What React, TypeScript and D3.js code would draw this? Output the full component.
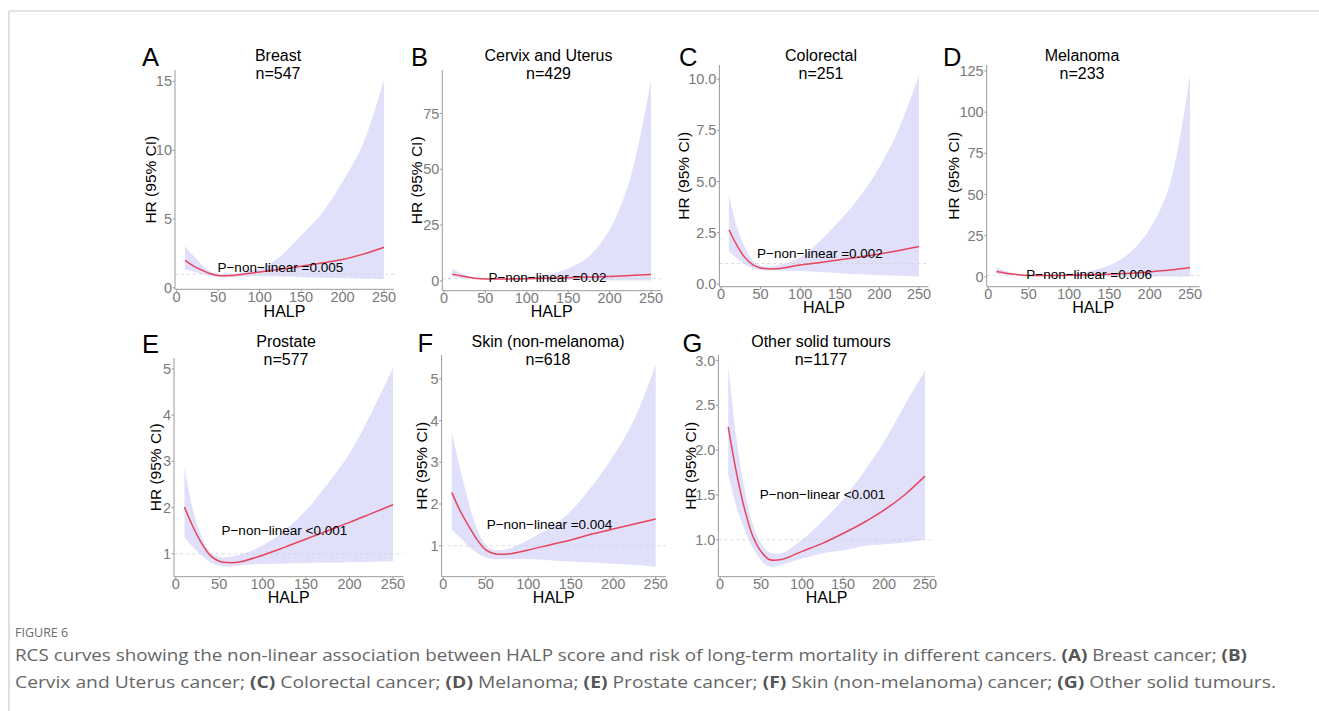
import React from 'react';
import * as d3 from 'd3';

// ---------- DATA ----------
const halp = [10, 20, 30, 40, 50, 60, 75, 100, 125, 150, 175, 200, 225, 250];
const xTicks = [0, 50, 100, 150, 200, 250];

const breastHR = [2.0, 1.6, 1.3, 1.04, 0.9, 0.88, 0.95, 1.15, 1.35, 1.57, 1.8, 2.06, 2.45, 2.95];
const breastLower = [1.33, 1.2, 1.0, 0.85, 0.78, 0.78, 0.82, 0.85, 0.82, 0.78, 0.74, 0.7, 0.66, 0.62];
const breastUpper = [3.03, 2.35, 1.7, 1.2, 1.02, 1.0, 1.08, 1.4, 2.3, 3.8, 5.4, 7.7, 10.5, 15.1];
const breastTicks = [0, 5, 10, 15];

const cervixHR = [3.0, 2.3, 1.6, 1.1, 0.85, 0.8, 0.85, 1.0, 1.2, 1.45, 1.7, 2.0, 2.4, 2.9];
const cervixLower = [1.6, 1.3, 1.1, 0.9, 0.7, 0.65, 0.65, 0.6, 0.5, 0.4, 0.3, 0.2, 0.15, 0.1];
const cervixUpper = [5.6, 3.5, 2.0, 1.2, 1.0, 1.0, 1.1, 1.7, 2.9, 5.5, 11, 23, 46, 90];
const cervixTicks = [0, 25, 50, 75];

const colorectalHR = [2.65, 1.9, 1.3, 0.95, 0.78, 0.74, 0.76, 0.93, 1.05, 1.18, 1.32, 1.47, 1.64, 1.83];
const colorectalLower = [1.59, 1.25, 0.95, 0.78, 0.68, 0.66, 0.66, 0.63, 0.58, 0.53, 0.48, 0.44, 0.4, 0.36];
const colorectalUpper = [4.39, 2.8, 1.8, 1.15, 0.9, 0.85, 0.95, 1.3, 2.1, 3.1, 4.25, 5.7, 7.6, 10.2];
const colorectalTicks = [0, 2.5, 5, 7.5, 10];

const melanomaHR = [3.2, 2.4, 1.7, 1.2, 0.9, 0.8, 0.8, 0.95, 1.2, 1.6, 2.2, 3.0, 4.1, 5.7];
const melanomaLower = [1.7, 1.4, 1.1, 0.9, 0.75, 0.65, 0.6, 0.5, 0.4, 0.35, 0.3, 0.25, 0.2, 0.15];
const melanomaUpper = [6.0, 3.8, 2.3, 1.5, 1.1, 1.0, 1.1, 1.9, 3.4, 7, 14.5, 29, 56, 122.5];
const melanomaTicks = [0, 25, 50, 75, 100, 125];

const prostateHR = [2.01, 1.58, 1.22, 0.96, 0.84, 0.81, 0.83, 0.97, 1.14, 1.32, 1.5, 1.68, 1.87, 2.06];
const prostateLower = [1.36, 1.14, 0.96, 0.82, 0.74, 0.72, 0.75, 0.78, 0.79, 0.8, 0.81, 0.82, 0.83, 0.84];
const prostateUpper = [2.88, 1.94, 1.36, 1.03, 0.93, 0.93, 0.99, 1.18, 1.5, 1.94, 2.52, 3.17, 4.04, 5.02];
const prostateTicks = [1, 2, 3, 4, 5];

const skinHR = [2.28, 1.83, 1.47, 1.14, 0.9, 0.81, 0.8, 0.9, 1.02, 1.14, 1.28, 1.4, 1.52, 1.64];
const skinLower = [1.39, 1.19, 0.98, 0.82, 0.72, 0.68, 0.68, 0.68, 0.65, 0.62, 0.6, 0.57, 0.54, 0.5];
const skinUpper = [3.72, 2.83, 2.03, 1.39, 1.02, 0.9, 0.92, 1.14, 1.43, 1.83, 2.43, 3.15, 4.04, 5.33];
const skinTicks = [1, 2, 3, 4, 5];

const otherHR = [2.26, 1.75, 1.34, 1.04, 0.87, 0.78, 0.78, 0.87, 0.96, 1.07, 1.19, 1.33, 1.5, 1.71];
const otherLower = [1.73, 1.37, 1.11, 0.91, 0.77, 0.7, 0.72, 0.79, 0.85, 0.88, 0.93, 0.95, 0.97, 1.0];
const otherUpper = [2.95, 2.13, 1.56, 1.17, 0.96, 0.86, 0.85, 1.0, 1.21, 1.45, 1.75, 2.09, 2.5, 2.89];
const otherTicks = [1.0, 1.5, 2.0, 2.5, 3.0];

const letters = ['A', 'B', 'C', 'D', 'E', 'F', 'G'];
const titles = ['Breast', 'Cervix and Uterus', 'Colorectal', 'Melanoma', 'Prostate', 'Skin (non-melanoma)', 'Other solid tumours'];
const counts = ['n=547', 'n=429', 'n=251', 'n=233', 'n=577', 'n=618', 'n=1177'];
const pTexts = [
  'P\u2212non\u2212linear =0.005',
  'P\u2212non\u2212linear =0.02',
  'P\u2212non\u2212linear =0.002',
  'P\u2212non\u2212linear =0.006',
  'P\u2212non\u2212linear <0.001',
  'P\u2212non\u2212linear =0.004',
  'P\u2212non\u2212linear <0.001',
];
const hrSeries = [breastHR, cervixHR, colorectalHR, melanomaHR, prostateHR, skinHR, otherHR];
const lowerSeries = [breastLower, cervixLower, colorectalLower, melanomaLower, prostateLower, skinLower, otherLower];
const upperSeries = [breastUpper, cervixUpper, colorectalUpper, melanomaUpper, prostateUpper, skinUpper, otherUpper];
const yTickSets = [breastTicks, cervixTicks, colorectalTicks, melanomaTicks, prostateTicks, skinTicks, otherTicks];
const tickFormats = ['d', 'd', '.1f', 'd', 'd', 'd', '.1f'];
const annotX = 125;
const annotY = 1.5;
const refHR = 1;

const captionLabel = 'FIGURE 6';
const captionLine1 = [
  { t: 'RCS curves showing the non-linear association between HALP score and risk of long-term mortality in different cancers. ', b: false },
  { t: '(A)', b: true }, { t: ' Breast cancer; ', b: false }, { t: '(B)', b: true },
];
const captionLine2 = [
  { t: 'Cervix and Uterus cancer; ', b: false }, { t: '(C)', b: true }, { t: ' Colorectal cancer; ', b: false },
  { t: '(D)', b: true }, { t: ' Melanoma; ', b: false }, { t: '(E)', b: true }, { t: ' Prostate cancer; ', b: false },
  { t: '(F)', b: true }, { t: ' Skin (non-melanoma) cancer; ', b: false }, { t: '(G)', b: true }, { t: ' Other solid tumours.', b: false },
];

// ---------- LAYOUT (pixel positions) ----------
const layouts = [
  { left: 175.0, right: 394.0, top: 70, bottom: 289.3, letterX: 142, letterY: 66, titleX: 278, titleY: 60.7, yTitleX: 155.5, xTitleY: 317 },
  { left: 442.3, right: 661.0, top: 70, bottom: 290.7, letterX: 411, letterY: 66, titleX: 548.5, titleY: 60.7, yTitleX: 421.5, xTitleY: 317 },
  { left: 719.4, right: 928.5, top: 65, bottom: 286.7, letterX: 679, letterY: 66, titleX: 821, titleY: 60.7, yTitleX: 688.5, xTitleY: 313 },
  { left: 986.7, right: 1199.7, top: 65, bottom: 286.7, letterX: 943, letterY: 66, titleX: 1082, titleY: 60.7, yTitleX: 958.5, xTitleY: 313 },
  { left: 174.0, right: 403.4, top: 358, bottom: 576.7, letterX: 142, letterY: 352.5, titleX: 286, titleY: 347.3, yTitleX: 160.5, xTitleY: 603 },
  { left: 441.6, right: 665.9, top: 355, bottom: 576.7, letterX: 417.5, letterY: 352, titleX: 548, titleY: 347.3, yTitleX: 426.5, xTitleY: 603 },
  { left: 718.4, right: 934.8, top: 355, bottom: 576.7, letterX: 682.5, letterY: 352, titleX: 821, titleY: 347.3, yTitleX: 695.5, xTitleY: 603 },
];

const FONT = "'Liberation Sans', Arial, Helvetica, sans-serif";
const CAP_FONT = "'Open Sans', 'Noto Sans', sans-serif";
const RIBBON = '#e0e0fa';
const LINE = '#e8445c';
const AXIS = '#9a9a9a';
const TICKTXT = '#7a7a7a';

function expand(ext: [number, number]): [number, number] {
  const r = ext[1] - ext[0];
  return [ext[0] - 0.05 * r, ext[1] + 0.05 * r];
}

function Panel({ i }: { i: number }) {
  const l = layouts[i];
  const hr = hrSeries[i];
  const lo = lowerSeries[i];
  const hi = upperSeries[i];
  const x = d3.scaleLinear().domain(expand(d3.extent(halp) as [number, number])).range([l.left, l.right]);
  const y = d3.scaleLinear().domain(expand([d3.min(lo) as number, d3.max(hi) as number])).range([l.bottom, l.top]);
  const idx = halp.map((_, k) => k);
  const curve = d3.curveCatmullRom.alpha(0.5);
  const area = d3.area<number>()
    .x((k) => x(halp[k]))
    .y0((k) => y(lo[k]))
    .y1((k) => y(hi[k]))
    .curve(curve);
  const line = d3.line<number>()
    .x((k) => x(halp[k]))
    .y((k) => y(hr[k]))
    .curve(curve);
  const fmt = d3.format(tickFormats[i]);
  const midY = (l.top + l.bottom) / 2;
  const midX = (l.left + l.right) / 2;
  return (
    <g>
      <text x={l.letterX} y={l.letterY} fontSize={25.5} fontFamily={FONT} fill="#000">{letters[i]}</text>
      <text x={l.titleX} y={l.titleY} fontSize={16} fontFamily={FONT} textAnchor="middle" fill="#000">{titles[i]}</text>
      <text x={l.titleX} y={l.titleY + 18} fontSize={16} fontFamily={FONT} textAnchor="middle" fill="#000">{counts[i]}</text>
      <path d={area(idx) || ''} fill={RIBBON} stroke="none" />
      <line x1={l.left} x2={l.right} y1={y(refHR)} y2={y(refHR)} stroke="#d2d2d2" strokeWidth={0.8} strokeDasharray="3,3" />
      <path d={line(idx) || ''} fill="none" stroke={LINE} strokeWidth={1.5} />
      <text x={x(annotX)} y={y(annotY)} fontSize={13.5} fontFamily={FONT} textAnchor="middle" dominantBaseline="central" fill="#000">{pTexts[i]}</text>
      <line x1={l.left} x2={l.left} y1={l.top} y2={l.bottom} stroke={AXIS} strokeWidth={1} />
      <line x1={l.left} x2={l.right} y1={l.bottom} y2={l.bottom} stroke={AXIS} strokeWidth={1} />
      {yTickSets[i].map((t) => (
        <g key={'y' + t}>
          <line x1={l.left - 2.5} x2={l.left} y1={y(t)} y2={y(t)} stroke={AXIS} strokeWidth={1} />
          <text x={l.left - 3} y={y(t)} fontSize={14.5} fontFamily={FONT} textAnchor="end" dominantBaseline="central" fill={TICKTXT}>{fmt(t)}</text>
        </g>
      ))}
      {xTicks.map((t) => (
        <g key={'x' + t}>
          <line x1={x(t)} x2={x(t)} y1={l.bottom} y2={l.bottom + 2.5} stroke={AXIS} strokeWidth={1} />
          <text x={x(t)} y={l.bottom + 12.5} fontSize={14.5} fontFamily={FONT} textAnchor="middle" fill={TICKTXT}>{t}</text>
        </g>
      ))}
      <text x={midX} y={l.xTitleY} fontSize={16} fontFamily={FONT} textAnchor="middle" fill="#000">HALP</text>
      <text transform={`translate(${l.yTitleX},${midY}) rotate(-90)`} fontSize={15.5} fontFamily={FONT} textAnchor="middle" fill="#000">HR (95% CI)</text>
    </g>
  );
}

export default function App() {
  return (
    <svg width={1319} height={711} style={{ position: 'fixed', left: 0, top: 0, background: '#fff' }}>
      <rect x={0} y={0} width={1319} height={711} fill="#fff" />
      <line x1={9} x2={1319} y1={11} y2={11} stroke="#cccccc" strokeWidth={1.2} />
      <line x1={9} x2={9} y1={11} y2={711} stroke="#cccccc" strokeWidth={1.2} />
      {layouts.map((_, i) => <Panel key={i} i={i} />)}
      <text x={15} y={637} fontSize={12.5} fontFamily={CAP_FONT} fill="#6e6e6e">{captionLabel}</text>
      <text x={15} y={661} fontSize={16} fontFamily={CAP_FONT} fill="#666" textLength={1232} lengthAdjust="spacingAndGlyphs">
        {captionLine1.map((s, k) => <tspan key={k} fontWeight={s.b ? 'bold' : 'normal'} fill={s.b ? '#555' : '#666'}>{s.t}</tspan>)}
      </text>
      <text x={15} y={688} fontSize={16} fontFamily={CAP_FONT} fill="#666" textLength={1261} lengthAdjust="spacingAndGlyphs">
        {captionLine2.map((s, k) => <tspan key={k} fontWeight={s.b ? 'bold' : 'normal'} fill={s.b ? '#555' : '#666'}>{s.t}</tspan>)}
      </text>
    </svg>
  );
}
